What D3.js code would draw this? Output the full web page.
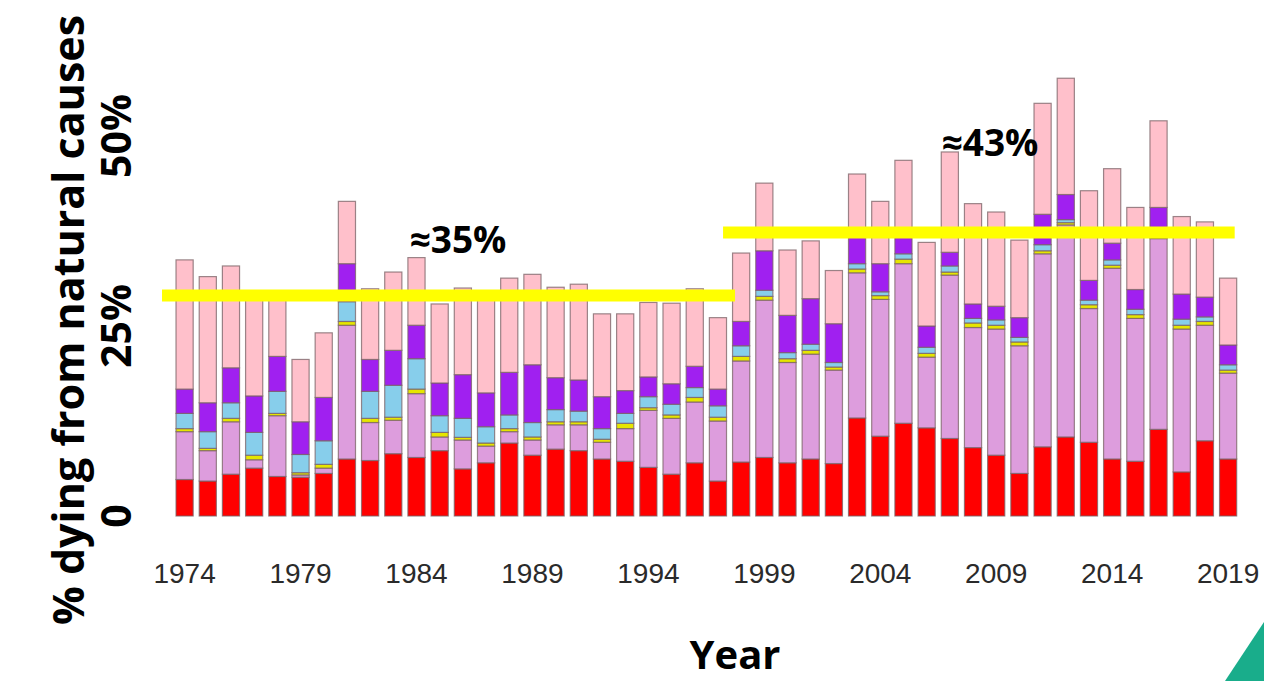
<!DOCTYPE html>
<html>
<head>
<meta charset="utf-8">
<script src="https://cdn.jsdelivr.net/npm/d3@7"></script>
<style>
  body { margin: 0; background: #fff; }
  svg { display: block; }
</style>
</head>
<body>
<div id="chart"></div>
<script>
// years on the x axis
const years = d3.range(1974, 2020);
const tickYears = [1974, 1979, 1984, 1989, 1994, 1999, 2004, 2009, 2014, 2019];

// stacked layers, bottom to top (% of deaths)
const redVals = [4.8, 4.6, 5.5, 6.3, 5.2, 5.1, 5.6, 7.5, 7.3, 8.2, 7.7, 8.6, 6.2, 7.0, 9.6, 8.0, 8.8, 8.6, 7.5, 7.2, 6.4, 5.5, 7.0, 4.6,
  7.1, 7.7, 7.0, 7.5, 6.9, 12.9, 10.5, 12.2, 11.6, 10.2, 9.0, 8.0, 5.6, 9.1, 10.4, 9.7, 7.5, 7.2, 11.4, 5.8, 9.9, 7.5];
const plumVals = [6.3, 4.0, 6.9, 1.1, 8.0, 0.3, 0.7, 17.6, 5.0, 4.4, 8.4, 1.8, 3.8, 2.2, 1.5, 2.0, 3.2, 3.4, 2.2, 4.3, 7.5, 7.35, 8.0, 7.9,
  13.3, 20.7, 13.2, 13.8, 12.3, 19.1, 18.0, 21.0, 9.3, 21.5, 15.8, 16.6, 16.8, 25.4, 27.9, 17.6, 25.1, 18.8, 25.1, 18.8, 15.2, 11.3];
const yellowVals = [0.4, 0.3, 0.45, 0.6, 0.3, 0.3, 0.5, 0.5, 0.55, 0.4, 0.6, 0.6, 0.35, 0.4, 0.4, 0.4, 0.4, 0.4, 0.4, 0.7, 0.35, 0.45, 0.6, 0.5,
  0.6, 0.5, 0.5, 0.5, 0.4, 0.5, 0.5, 0.6, 0.5, 0.4, 0.6, 0.5, 0.5, 0.4, 0.3, 0.5, 0.4, 0.5, 0.3, 0.5, 0.5, 0.4];
const blueVals = [2.0, 2.2, 2.05, 3.0, 2.9, 2.4, 3.1, 2.6, 3.55, 4.2, 4.0, 2.2, 2.5, 2.15, 1.8, 1.9, 1.6, 1.4, 1.4, 1.3, 1.45, 1.4, 1.3, 1.5,
  1.4, 0.8, 0.8, 0.8, 0.6, 0.7, 0.5, 0.7, 0.8, 0.8, 0.6, 0.7, 0.6, 0.8, 0.4, 0.6, 0.7, 0.7, 0.3, 0.8, 0.6, 0.7];
const purpleVals = [3.2, 3.8, 4.6, 4.8, 4.6, 4.3, 5.7, 5.0, 4.2, 4.6, 4.4, 4.3, 5.75, 4.45, 5.6, 7.6, 4.2, 4.1, 4.2, 3.0, 2.6, 2.7, 2.8, 2.2,
  3.2, 5.2, 4.9, 6.0, 5.1, 4.2, 3.7, 3.0, 2.8, 1.8, 1.9, 1.8, 2.6, 4.0, 3.3, 2.6, 2.2, 2.6, 3.5, 3.3, 2.6, 2.6];
const pinkVals = [17.0, 16.6, 13.4, 13.7, 8.5, 8.2, 8.5, 8.2, 9.3, 10.3, 8.9, 10.4, 11.4, 13.1, 12.4, 11.9, 11.9, 12.6, 10.9, 10.1, 9.8, 10.6, 10.2, 9.4,
  9.0, 8.9, 8.6, 7.6, 7.0, 7.6, 8.2, 9.3, 11.0, 13.2, 13.2, 12.4, 10.2, 14.6, 15.3, 11.8, 9.8, 10.8, 11.4, 10.2, 9.9, 8.8];

const layerKeys = ["red", "plum", "yellow", "blue", "purple", "pink"];
const layerColors = ["#ff0000", "#dd9ddd", "#e6e600", "#87ceeb", "#a020f0", "#ffc0cb"];

// period averages drawn as yellow bars
const periods = [
  {from: 1974, to: 1997, value: 29.0, label: "≈35%"},
  {from: 1998, to: 2019, value: 37.3, label: "≈43%"}
];
const yTicks = [0, 25, 50];

const width = 1264, height = 681;

const table = years.map((yr, i) => ({
  year: yr,
  red: redVals[i], plum: plumVals[i], yellow: yellowVals[i],
  blue: blueVals[i], purple: purpleVals[i], pink: pinkVals[i]
}));

const svg = d3.select("#chart").append("svg")
  .attr("width", width)
  .attr("height", height);

const x = d3.scaleBand()
  .domain(years)
  .range([173, 1239.7])
  .paddingInner(0.26)
  .paddingOuter(0.13);

const y = d3.scaleLinear()
  .domain([0, 60])
  .range([516, 60]);

const color = d3.scaleOrdinal().domain(layerKeys).range(layerColors);

const stacked = d3.stack().keys(layerKeys)(table);

svg.append("g")
  .selectAll("g")
  .data(stacked)
  .join("g")
  .attr("fill", d => color(d.key))
  .selectAll("rect")
  .data(d => d)
  .join("rect")
  .attr("x", d => x(d.data.year))
  .attr("width", x.bandwidth())
  .attr("y", d => y(d[1]))
  .attr("height", d => y(d[0]) - y(d[1]))
  .attr("stroke", "#7a6266")
  .attr("stroke-opacity", 0.75)
  .attr("stroke-width", 1.2);

// yellow average lines (how far each overhangs its first / last bar)
const overhang = [{left: 14, right: 8.5}, {left: 9.5, right: -2}];
svg.append("g")
  .selectAll("line")
  .data(periods)
  .join("line")
  .attr("x1", (d, i) => x(d.from) - overhang[i].left)
  .attr("x2", (d, i) => x(d.to) + x.bandwidth() + overhang[i].right)
  .attr("y1", d => y(d.value))
  .attr("y2", d => y(d.value))
  .attr("stroke", "#ffff00")
  .attr("stroke-width", 12);

// labels of the averages
const labelPos = [{x: 458, y: 253}, {x: 990, y: 156}];
svg.append("g")
  .selectAll("text")
  .data(periods)
  .join("text")
  .attr("x", (d, i) => labelPos[i].x)
  .attr("y", (d, i) => labelPos[i].y)
  .attr("text-anchor", "middle")
  .attr("font-family", "'Open Sans', sans-serif")
  .attr("font-weight", "bold")
  .attr("font-size", 37)
  .attr("fill", "#000")
  .text(d => d.label);

// x axis
const xAxis = svg.append("g")
  .attr("transform", "translate(0,516)")
  .call(d3.axisBottom(x).tickValues(tickYears).tickSize(0).tickPadding(0));
xAxis.select(".domain").remove();
xAxis.selectAll("text")
  .attr("y", 67)
  .attr("dy", 0)
  .attr("font-family", "'Liberation Sans', Arial, sans-serif")
  .attr("font-size", 28)
  .attr("fill", "#2a2a2a");

// y axis tick labels, rotated
svg.append("g")
  .selectAll("text")
  .data(yTicks)
  .join("text")
  .attr("transform", d => `translate(131,${y(d)}) rotate(-90)`)
  .attr("text-anchor", "middle")
  .attr("font-family", "'Open Sans', sans-serif")
  .attr("font-weight", "bold")
  .attr("font-size", 41)
  .attr("fill", "#000")
  .text(d => d === 0 ? "0" : d + "%");

// axis titles
svg.append("text")
  .attr("transform", "translate(84,320) rotate(-90)")
  .attr("text-anchor", "middle")
  .attr("font-family", "'Open Sans', sans-serif")
  .attr("font-weight", "bold")
  .attr("font-size", 43)
  .attr("fill", "#000")
  .text("% dying from natural causes");

svg.append("text")
  .attr("x", 735)
  .attr("y", 669)
  .attr("text-anchor", "middle")
  .attr("font-family", "'Open Sans', sans-serif")
  .attr("font-weight", "bold")
  .attr("font-size", 40)
  .attr("fill", "#000")
  .text("Year");

// corner decoration
svg.append("path")
  .attr("d", "M1264,622 L1264,681 L1225,681 Z")
  .attr("fill", "#19ad8b");
</script>
</body>
</html>
